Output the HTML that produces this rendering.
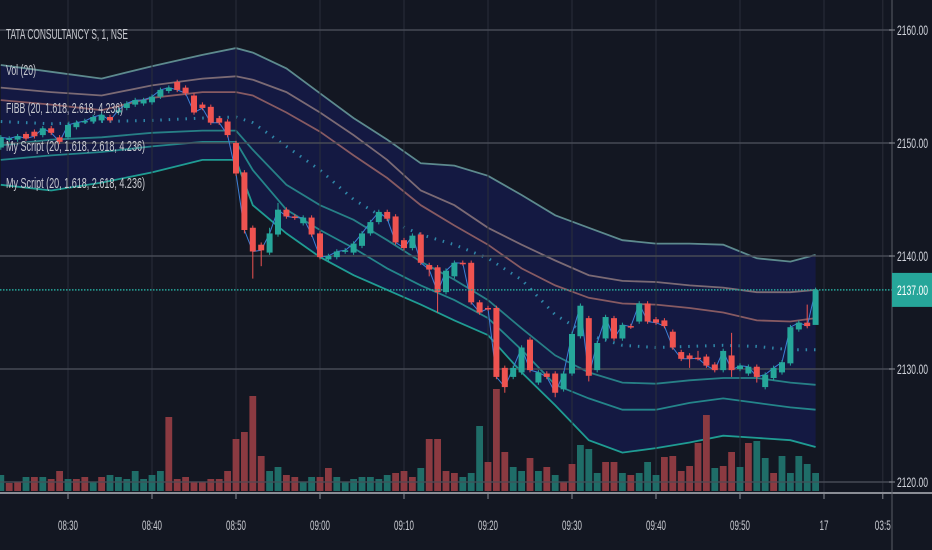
<!DOCTYPE html>
<html><head><meta charset="utf-8"><style>
html,body{margin:0;padding:0;background:#131722;width:932px;height:550px;overflow:hidden}
svg{display:block;font-family:"Liberation Sans",sans-serif}
</style></head><body>
<svg id="chart" width="932" height="550" viewBox="0 0 932 550" xmlns="http://www.w3.org/2000/svg">
<rect x="0" y="0" width="932" height="550" fill="#131722"/>
<g id="bands"></g>
<g id="grid"></g>
<g id="vol"></g>
<g id="candles"></g>
<g id="axes"></g>
<g fill="#c8cad0" font-size="15">
<text x="6" y="39" textLength="122" lengthAdjust="spacingAndGlyphs">TATA CONSULTANCY S, 1, NSE</text>
<text x="6" y="75" textLength="30" lengthAdjust="spacingAndGlyphs">Vol (20)</text>
<text x="6" y="113" textLength="117" lengthAdjust="spacingAndGlyphs">FIBB (20, 1.618, 2.618, 4.236)</text>
<text x="6" y="151" textLength="139" lengthAdjust="spacingAndGlyphs">My Script (20, 1.618, 2.618, 4.236)</text>
<text x="6" y="188" textLength="139" lengthAdjust="spacingAndGlyphs">My Script (20, 1.618, 2.618, 4.236)</text>
</g>
</svg>
<script>
const opens=[2149.6,2150.3,2150.3,2150.8,2151.0,2150.7,2151.3,2150.5,2150.5,2151.4,2151.9,2151.9,2152.0,2152.3,2152.7,2153.1,2153.4,2153.5,2153.6,2154.1,2154.6,2155.4,2154.9,2154.2,2153.4,2153.2,2152.2,2151.9,2150.0,2147.4,2142.5,2141.0,2140.3,2141.9,2144.1,2143.5,2142.9,2143.4,2142.0,2139.7,2139.9,2140.4,2140.3,2140.9,2142.0,2143.0,2143.9,2143.5,2141.4,2140.7,2141.9,2139.2,2139.0,2136.8,2138.2,2139.4,2139.4,2135.9,2135.4,2135.4,2130.1,2129.3,2129.7,2132.6,2128.8,2129.6,2129.6,2128.2,2129.6,2132.9,2134.5,2129.9,2132.7,2134.5,2132.7,2133.8,2134.2,2135.8,2134.4,2134.3,2133.3,2131.5,2131.2,2131.0,2131.1,2130.4,2129.9,2131.2,2130.0,2129.6,2130.2,2128.4,2129.2,2129.7,2130.5,2133.5,2134.1,2133.9];
const closes=[2150.5,2150.4,2150.6,2150.4,2150.6,2151.3,2150.9,2150.1,2151.6,2151.8,2151.95,2152.3,2152.5,2152.0,2152.9,2153.5,2153.8,2153.8,2154.1,2154.7,2154.9,2154.7,2154.4,2152.7,2153.1,2151.8,2151.8,2150.7,2147.3,2142.3,2140.4,2140.5,2142.0,2144.1,2143.5,2143.4,2143.4,2141.9,2139.9,2140.0,2140.4,2140.5,2141.1,2142.0,2143.0,2143.9,2143.3,2141.2,2140.7,2141.8,2139.4,2138.8,2136.8,2138.7,2139.4,2139.35,2135.9,2135.0,2135.35,2129.3,2128.4,2130.1,2131.9,2129.9,2129.7,2129.3,2127.9,2129.6,2133.1,2135.6,2129.4,2132.3,2134.6,2132.7,2133.9,2133.75,2135.8,2134.2,2134.1,2133.8,2131.9,2130.9,2130.9,2130.95,2130.3,2129.9,2131.6,2129.9,2130.3,2130.2,2129.3,2129.5,2130.1,2130.6,2133.7,2134.1,2133.8,2137.0];
const lowOverride={29:2142.0,30:2138.0,31:2139.1,51:2138.2,52:2135.0,60:2127.9,66:2127.5,70:2128.9,82:2130.1,87:2129.3,90:2128.8,97:2136.3};
const highOverride={32:2142.5,33:2144.7,83:2131.6,87:2133.2,95:2134.3,96:2135.7};
const volumes=[1600,800,900,1400,1400,1400,1200,2000,1200,1200,1400,900,1400,1600,1400,1200,2000,1200,1600,2000,7400,1200,1400,900,900,1200,1200,2000,5200,5900,9500,3500,2000,2400,1600,1400,900,1400,1400,2300,1400,900,1200,1400,1400,1200,1600,1800,2000,1400,2300,5200,5200,2000,1800,1400,1800,6500,2900,10200,3900,2400,2000,3300,2000,2400,1600,900,2700,4600,4200,1800,2900,2900,1800,1600,1800,2900,1600,3400,3500,2000,2500,4800,7600,2300,2500,3900,2400,4800,5000,3300,1800,3500,1800,3500,2700,1800];
const volDir="uddududdudduduuuuuuudddddddddddduudduudduuuuuuudddudddduuuddduudududduuudduduuuddddddudduduuduuuuudu";
const bandIdx=[0,6,12,18,24,28,30,34,38,42,46,50,54,58,62,66,70,74,78,82,86,90,94,97];
const upper3=[2156.9,2156.3,2155.7,2156.8,2157.8,2158.4,2158.0,2156.6,2154.4,2152.2,2150.3,2148.2,2148.0,2147.1,2145.4,2143.6,2142.5,2141.4,2141.1,2141.1,2141.0,2139.8,2139.5,2140.1];
const upper2=[2154.9,2154.5,2154.2,2155.1,2155.7,2155.9,2155.6,2154.5,2152.7,2150.7,2148.5,2145.8,2144.5,2142.5,2141.0,2139.6,2138.3,2137.8,2137.7,2137.4,2137.2,2136.8,2136.8,2137.0];
const upper1=[2153.8,2153.4,2152.9,2154.0,2154.5,2154.5,2154.2,2152.7,2151.0,2148.9,2146.9,2144.5,2142.7,2141.0,2138.9,2137.4,2136.3,2135.8,2135.7,2135.4,2135.0,2134.3,2134.2,2134.5];
const basis=[2151.9,2151.7,2151.9,2152.0,2152.2,2152.3,2151.8,2149.7,2147.6,2145.0,2143.2,2141.9,2141.0,2139.8,2137.9,2134.8,2133.0,2132.1,2131.9,2132.0,2132.1,2132.0,2131.7,2131.7];
const lower1=[2149.8,2150.3,2150.5,2150.9,2151.1,2151.1,2149.4,2146.3,2144.5,2143.2,2141.4,2139.5,2137.9,2136.1,2133.6,2131.2,2129.7,2128.8,2128.7,2129.0,2129.2,2129.2,2128.8,2128.6];
const lower2=[2148.5,2148.9,2149.2,2149.7,2150.1,2150.1,2147.6,2144.1,2142.3,2140.7,2138.9,2137.4,2136.1,2134.5,2131.7,2128.6,2127.4,2126.4,2126.4,2127.0,2127.4,2127.0,2126.6,2126.4];
const lower3=[2146.3,2145.8,2146.5,2147.4,2148.5,2148.5,2144.5,2142.0,2139.9,2138.3,2137.0,2135.7,2134.3,2133.0,2129.7,2126.8,2123.7,2122.6,2123.0,2123.5,2124.1,2123.9,2123.7,2123.1];
const priceTicks=[2160,2150,2140,2130,2120];
const timeLabels=["08:30","08:40","08:50","09:00","09:10","09:20","09:30","09:40","09:50","17","03:5"];
const timeTickMinutes=[0,10,20,30,40,50,60,70,80,90,97];
const lastPrice=2137.0;

const NS="http://www.w3.org/2000/svg";
function yP(p){return 256-(p-2140)*11.3;}
function xM(m){return 68+8.4*m;}
function xI(i){return xM(i-8);}
function yV(v){return 491-v/100;}
function mk(tag,attrs,parent){const e=document.createElementNS(NS,tag);for(const k in attrs)e.setAttribute(k,attrs[k]);parent.appendChild(e);return e;}
const gB=document.getElementById('bands'),gG=document.getElementById('grid'),gV=document.getElementById('vol'),gC=document.getElementById('candles'),gA=document.getElementById('axes');

const bandTopPts=bandIdx.map((i,k)=>xI(i).toFixed(1)+','+yP(upper3[k]).toFixed(1));
const bandBotPts=bandIdx.map((i,k)=>xI(i).toFixed(1)+','+yP(lower3[k]).toFixed(1)).reverse();
const fillPoly=mk('polygon',{points:bandTopPts.concat(bandBotPts).join(' '),fill:'#141942'},gB);



timeTickMinutes.forEach((m,k)=>{
  const l=mk('line',{x1:xM(m),x2:xM(m),y1:0,y2:493,stroke:'#2a2e39','stroke-width':1},gG);
  
  
});
priceTicks.forEach(p=>{
  const l=mk('line',{x1:0,x2:892,y1:yP(p),y2:yP(p),stroke:'#464a55','stroke-width':1.5},gG);
  
  
});

const bandDefs=[[upper3,'#5d8a8e',null],[upper2,'#7b6a74',null],[upper1,'#875a62',null],[basis,'#2f86a8','1.5 6.9'],[lower1,'#277f86',null],[lower2,'#24858a',null],[lower3,'#1f9c93',null]];
const bandNames=['upper-band-3','upper-band-2','upper-band-1','basis-line','lower-band-1','lower-band-2','lower-band-3'];
bandDefs.forEach((d,n)=>{
  const pts=bandIdx.map((i,k)=>xI(i).toFixed(1)+','+yP(d[0][k]).toFixed(1)).join(' ');
  const a={points:pts,fill:'none',stroke:d[1],'stroke-width':d[2]?3:1.8};
  if(d[2])a['stroke-dasharray']=d[2];
  const pl=mk('polyline',a,gB);
  
  
});

volumes.forEach((v,i)=>{
  const r=mk('rect',{x:xI(i)-3.4,y:yV(v),width:6.8,height:491-yV(v),fill:volDir[i]==='u'?'#1f6d68':'#8b3a41'},gV);
  
  
});
const vb=mk('line',{x1:0,x2:892,y1:482,y2:482,stroke:'#464a55','stroke-width':1},gV);



const cl=mk('polyline',{points:closes.map((c,i)=>xI(i).toFixed(1)+','+yP(c).toFixed(1)).join(' '),fill:'none',stroke:'#3d7fd6','stroke-width':1},gC);



opens.forEach((o,i)=>{
  const c=closes[i];const up=c>=o;const col=up?'#26a69a':'#ef5350';
  const hi=highOverride[i]!==undefined?highOverride[i]:Math.max(o,c)+0.2;
  const lo=lowOverride[i]!==undefined?lowOverride[i]:Math.min(o,c)-0.2;
  const g=mk('g',{},gC);
  
  
  mk('line',{x1:xI(i),x2:xI(i),y1:yP(hi),y2:yP(lo),stroke:col,'stroke-width':1},g);
  const y1=yP(Math.max(o,c)),h=Math.max(1.5,yP(Math.min(o,c))-y1);
  mk('rect',{x:xI(i)-3,y:y1,width:6,height:h,fill:col},g);
});

const lp=mk('line',{x1:0,x2:892,y1:yP(lastPrice),y2:yP(lastPrice),stroke:'#26a69a','stroke-width':1.5,'stroke-dasharray':'1.5 1.5'},gA);



const xa=mk('line',{x1:0,x2:932,y1:493,y2:493,stroke:'#8a8d95','stroke-width':2},gA);


const ya=mk('line',{x1:892,x2:892,y1:0,y2:550,stroke:'#5a5d66','stroke-width':1},gA);


timeTickMinutes.forEach((m,k)=>{
  const tk=mk('line',{x1:xM(m),x2:xM(m),y1:493,y2:499,stroke:'#8a8d95','stroke-width':1},gA);
  
  
  const lab=timeLabels[k];
  const w=lab.length===2?9:(lab.length===4?16:20);
  const t=mk('text',{x:xM(m),y:530,'text-anchor':'middle','font-size':14,fill:'#c8cad0',textLength:w,lengthAdjust:'spacingAndGlyphs'},gA);
  t.textContent=lab;
  
  
});
priceTicks.forEach(p=>{
  const tk=mk('line',{x1:889,x2:895,y1:yP(p),y2:yP(p),stroke:'#8a8d95','stroke-width':1},gA);
  
  
  const t=mk('text',{x:897,y:yP(p)+5,'font-size':14,fill:'#d1d4dc',textLength:31,lengthAdjust:'spacingAndGlyphs'},gA);
  t.textContent=p.toFixed(2);
  
  
});
const tag=mk('rect',{x:892,y:yP(lastPrice)-17,width:40,height:34,fill:'#26a69a'},gA);


const tt=mk('text',{x:897,y:yP(lastPrice)+5,'font-size':14,fill:'#ffffff',textLength:31,lengthAdjust:'spacingAndGlyphs'},gA);
tt.textContent=lastPrice.toFixed(2);


</script>
</body></html>
